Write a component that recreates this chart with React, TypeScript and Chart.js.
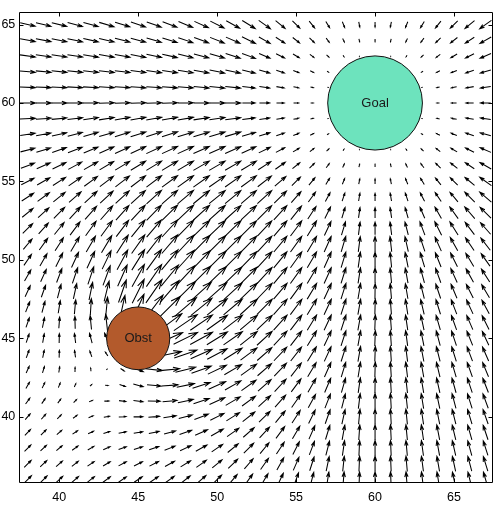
import React, { useEffect, useRef } from "react";
import { Chart, registerables } from "chart.js";

Chart.register(...registerables);

// ---- data ----
const gridX = [38, 39, 40, 41, 42, 43, 44, 45, 46, 47, 48, 49, 50, 51, 52, 53, 54, 55, 56, 57, 58, 59, 60, 61, 62, 63, 64, 65, 66, 67];
const gridY = [36, 37, 38, 39, 40, 41, 42, 43, 44, 45, 46, 47, 48, 49, 50, 51, 52, 53, 54, 55, 56, 57, 58, 59, 60, 61, 62, 63, 64, 65];

const goalCenter = [60, 60];
const goalRadius = 3;
const goalSpread = 6;
const goalGain = 1;

const obstacleCenter = [45, 45];
const obstacleRadius = 2;
const obstacleSpread = 13.5;
const obstacleGain = 0.45;

const xTicks = [40, 45, 50, 55, 60, 65];
const yTicks = [40, 45, 50, 55, 60, 65];
const xRange = [37.47, 67.45];
const yRange = [35.78, 65.83];

const arrowScale = 0.162; // data units per field unit

type Vec = { x: number; y: number; u: number; v: number };

function fieldAt(px: number, py: number): { u: number; v: number } | null {
  let u = 0;
  let v = 0;
  const dxg = goalCenter[0] - px;
  const dyg = goalCenter[1] - py;
  const dg = Math.hypot(dxg, dyg);
  if (dg > goalRadius) {
    const m = dg <= goalRadius + goalSpread ? goalGain * (dg - goalRadius) : goalGain * goalSpread;
    u += (m * dxg) / dg;
    v += (m * dyg) / dg;
  }
  const dxo = px - obstacleCenter[0];
  const dyo = py - obstacleCenter[1];
  const dob = Math.hypot(dxo, dyo);
  if (dob < obstacleRadius) return null;
  if (dob <= obstacleRadius + obstacleSpread) {
    const m = obstacleGain * (obstacleRadius + obstacleSpread - dob);
    u += (m * dxo) / dob;
    v += (m * dyo) / dob;
  }
  return { u, v };
}

function buildVectors(): Vec[] {
  const out: Vec[] = [];
  for (const gy of gridY) {
    for (const gx of gridX) {
      const f = fieldAt(gx, gy);
      if (f) out.push({ x: gx, y: gy, u: f.u, v: f.v });
    }
  }
  return out;
}

const FONT = '"Liberation Sans", Arial, Helvetica, sans-serif';

const quiverPlugin = {
  id: "quiver",
  afterDatasetsDraw(chart: any) {
    const { ctx, chartArea, scales } = chart;
    const xs = scales.x;
    const ys = scales.y;
    ctx.save();
    ctx.beginPath();
    ctx.rect(chartArea.left, chartArea.top, chartArea.right - chartArea.left, chartArea.bottom - chartArea.top);
    ctx.clip();

    ctx.strokeStyle = "#000";
    ctx.lineWidth = 1.05;
    ctx.lineCap = "butt";
    ctx.lineJoin = "miter";
    const data: Vec[] = chart.data.datasets[0].data;
    for (const p of data) {
      const du = p.u * arrowScale;
      const dv = p.v * arrowScale;
      const x0 = xs.getPixelForValue(p.x - du / 2);
      const y0 = ys.getPixelForValue(p.y - dv / 2);
      const x1 = xs.getPixelForValue(p.x + du / 2);
      const y1 = ys.getPixelForValue(p.y + dv / 2);
      const ux = x1 - x0;
      const uy = y1 - y0;
      const L = Math.hypot(ux, uy);
      if (L < 0.3) continue;
      const a = 0.33;
      const b = 0.33;
      const hx1 = x1 - a * (ux + b * uy);
      const hy1 = y1 - a * (uy - b * ux);
      const hx2 = x1 - a * (ux - b * uy);
      const hy2 = y1 - a * (uy + b * ux);
      ctx.beginPath();
      ctx.moveTo(x0, y0);
      ctx.lineTo(x1, y1);
      ctx.moveTo(hx1, hy1);
      ctx.lineTo(x1, y1);
      ctx.lineTo(hx2, hy2);
      ctx.stroke();
    }

    const drawCircle = (c: number[], r: number, fill: string, label: string) => {
      const cx = xs.getPixelForValue(c[0]);
      const cy = ys.getPixelForValue(c[1]);
      const rx = Math.abs(xs.getPixelForValue(c[0] + r) - cx);
      const ry = Math.abs(ys.getPixelForValue(c[1] + r) - cy);
      ctx.beginPath();
      ctx.ellipse(cx, cy, rx, ry, 0, 0, Math.PI * 2);
      ctx.fillStyle = fill;
      ctx.fill();
      ctx.lineWidth = 1;
      ctx.strokeStyle = "#111";
      ctx.stroke();
      ctx.fillStyle = "#1a1a1a";
      ctx.font = `13px ${FONT}`;
      ctx.textAlign = "center";
      ctx.textBaseline = "middle";
      ctx.fillText(label, cx, cy);
    };
    drawCircle(goalCenter, goalRadius, "#6de3bd", "Goal");
    drawCircle(obstacleCenter, obstacleRadius, "#b35a2c", "Obst");
    ctx.restore();
  },
  afterDraw(chart: any) {
    const { ctx, chartArea, scales } = chart;
    const xs = scales.x;
    const ys = scales.y;
    const l = Math.round(chartArea.left) + 0.5;
    const r = Math.round(chartArea.right) - 0.5;
    const t = Math.round(chartArea.top) + 0.5;
    const btm = Math.round(chartArea.bottom) - 0.5;
    ctx.save();
    ctx.strokeStyle = "#000";
    ctx.lineWidth = 1;
    ctx.beginPath();
    ctx.rect(l, t, r - l, btm - t);
    ctx.stroke();
    const tl = 4;
    ctx.beginPath();
    for (const v of xTicks) {
      const px = Math.round(xs.getPixelForValue(v)) + 0.5;
      ctx.moveTo(px, btm);
      ctx.lineTo(px, btm - tl);
      ctx.moveTo(px, t);
      ctx.lineTo(px, t + tl);
    }
    for (const v of yTicks) {
      const py = Math.round(ys.getPixelForValue(v)) + 0.5;
      ctx.moveTo(l, py);
      ctx.lineTo(l + tl, py);
      ctx.moveTo(r, py);
      ctx.lineTo(r - tl, py);
    }
    ctx.stroke();
    ctx.restore();
  },
};

export default function App() {
  const canvasRef = useRef<HTMLCanvasElement | null>(null);

  useEffect(() => {
    if (!canvasRef.current) return;
    const vectors = buildVectors();
    const chart = new Chart(canvasRef.current, {
      type: "scatter",
      data: {
        datasets: [
          {
            data: vectors as any,
            pointRadius: 0,
            pointHoverRadius: 0,
            showLine: false,
          },
        ],
      },
      options: {
        animation: false,
        responsive: true,
        maintainAspectRatio: false,
        events: [],
        layout: { padding: { top: 11, right: 5.3, left: 0, bottom: 0 } },
        plugins: { legend: { display: false }, tooltip: { enabled: false } },
        scales: {
          x: {
            type: "linear",
            min: xRange[0],
            max: xRange[1],
            grid: { display: false, drawTicks: false },
            border: { display: false },
            ticks: { color: "#000", padding: 7, font: { family: FONT, size: 12.5 } },
            afterBuildTicks: (s: any) => {
              s.ticks = xTicks.map((v) => ({ value: v }));
            },
            afterFit: (s: any) => {
              s.height = 25;
            },
          },
          y: {
            type: "linear",
            min: yRange[0],
            max: yRange[1],
            grid: { display: false, drawTicks: false },
            border: { display: false },
            ticks: { color: "#000", padding: 4, font: { family: FONT, size: 12.5 } },
            afterBuildTicks: (s: any) => {
              s.ticks = yTicks.map((v) => ({ value: v }));
            },
            afterFit: (s: any) => {
              s.width = 19.3;
            },
          },
        },
      },
      plugins: [quiverPlugin],
    });
    return () => chart.destroy();
  }, []);

  return (
    <div style={{ position: "absolute", left: 0, top: 0, width: 498, height: 508, background: "#fff" }}>
      <canvas ref={canvasRef} />
    </div>
  );
}
